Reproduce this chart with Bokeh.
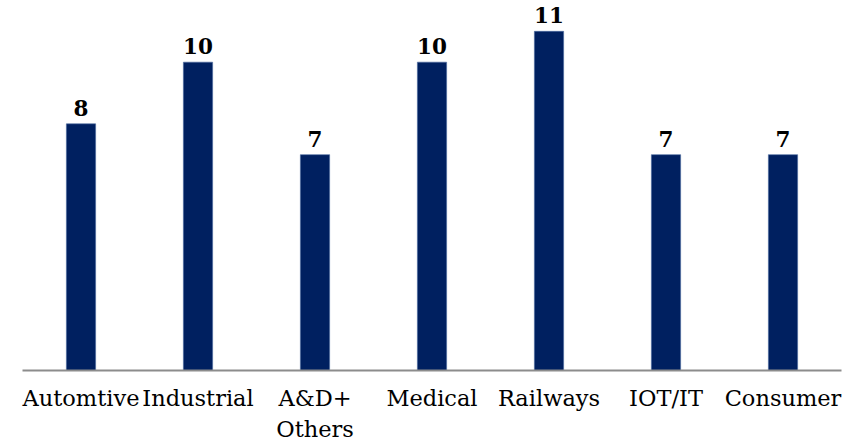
from bokeh.plotting import figure
from bokeh.models import ColumnDataSource, Range1d, FactorRange
from bokeh.core.properties import value
from bokeh.embed import file_html
from bokeh.resources import INLINE

categories = ["Automtive", "Industrial", "A&D+\nOthers", "Medical", "Railways", "IOT/IT", "Consumer"]
values = [8, 10, 7, 10, 11, 7, 7]
value_labels = [str(v) for v in values]

src = ColumnDataSource(data=dict(cat=categories, val=values, lab=value_labels))

p = figure(
    width=843, height=444,
    x_range=FactorRange(*categories, range_padding=0),
    y_range=Range1d(0, 12.0),
    output_backend="svg", toolbar_location=None,
    min_border_left=22, min_border_right=2, min_border_top=0, min_border_bottom=0,
)

p.vbar(x="cat", top="val", width=0.25, source=src,
       fill_color="#002060", line_color="#4a6aa0", line_width=0.6)

p.text(x="cat", y="val", text="lab", source=src,
       text_align="center", text_baseline="bottom", y_offset=-8,
       text_font=value("DejaVu Serif"), text_font_style="bold",
       text_font_size="21.5px", text_color="#000000")

p.yaxis.visible = False
p.xgrid.visible = False
p.ygrid.visible = False
p.outline_line_color = None

ax = p.xaxis[0]
ax.axis_line_color = "#8c8c8c"
ax.axis_line_width = 2
ax.major_tick_line_color = None
ax.minor_tick_line_color = None
ax.major_label_text_font = "DejaVu Serif"
ax.major_label_text_font_size = "22.5px"
ax.major_label_text_color = "#000000"
ax.major_label_standoff = 8

open("out.html", "w").write(file_html(p, INLINE))
